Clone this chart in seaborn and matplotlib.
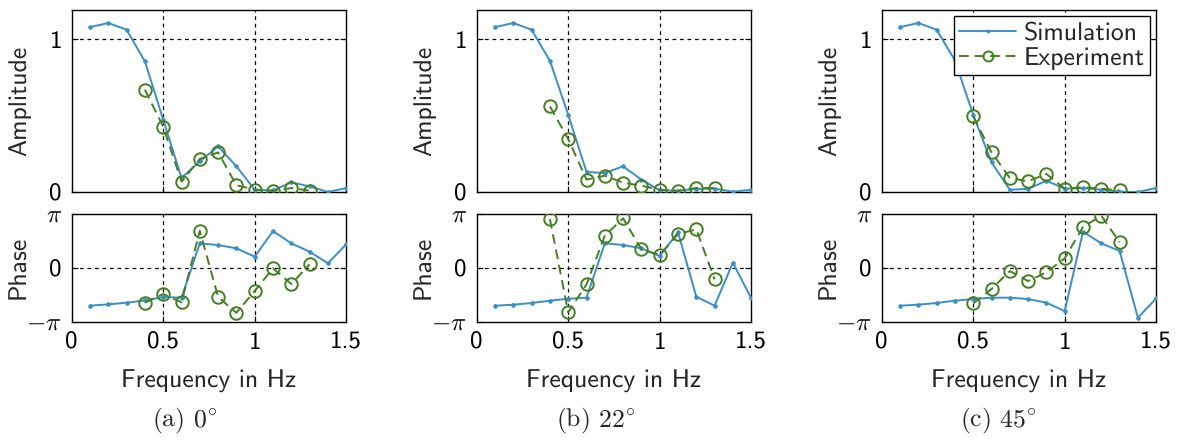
import numpy as np
import pandas as pd
import matplotlib
matplotlib.use("Agg")
import matplotlib.pyplot as plt
import seaborn as sns

freq_sim = [0.1, 0.2, 0.3, 0.4, 0.5, 0.6, 0.7, 0.8, 0.9, 1.0, 1.1, 1.2, 1.3, 1.4, 1.5]

# Amplitudes (simulation)
amp_sim_a = [1.078, 1.105, 1.061, 0.854, 0.473, 0.092, 0.20, 0.298, 0.168, 0.015, 0.010, 0.063, 0.037, 0.000, 0.026]
amp_sim_b = [1.078, 1.105, 1.061, 0.858, 0.505, 0.131, 0.124, 0.168, 0.081, 0.011, 0.009, 0.020, 0.022, 0.002, 0.015]
amp_sim_c = [1.078, 1.105, 1.061, 0.861, 0.505, 0.194, 0.015, 0.020, 0.074, 0.022, 0.026, 0.015, 0.002, 0.000, 0.026]

# Phases (simulation), in units of pi
ph_sim_a = [-0.703, -0.678, -0.647, -0.604, -0.542, -0.554, 0.455, 0.424, 0.362, 0.207, 0.684, 0.455, 0.300, 0.084, 0.437]
ph_sim_b = [-0.703, -0.684, -0.653, -0.610, -0.573, -0.554, 0.455, 0.424, 0.362, 0.220, 0.659, -0.536, -0.703, 0.096, -0.567]
ph_sim_c = [-0.703, -0.684, -0.653, -0.610, -0.579, -0.554, -0.554, -0.579, -0.647, -0.802, 0.672, 0.455, 0.313, -0.926, -0.567]

# Experiment
freq_exp_a = [0.4, 0.5, 0.6, 0.7, 0.8, 0.9, 1.0, 1.1, 1.2, 1.3]
amp_exp_a = [0.669, 0.427, 0.068, 0.216, 0.259, 0.044, 0.015, 0.007, 0.026, 0.009]
ph_exp_a = [-0.647, -0.486, -0.641, 0.690, -0.542, -0.833, -0.430, -0.009, -0.300, 0.065]

freq_exp_b = [0.4, 0.5, 0.6, 0.7, 0.8, 0.9, 1.0, 1.1, 1.2, 1.3]
amp_exp_b = [0.560, 0.346, 0.081, 0.107, 0.061, 0.041, 0.015, 0.007, 0.026, 0.026]
ph_exp_b = [0.907, -0.827, -0.307, 0.598, 0.920, 0.344, 0.238, 0.628, 0.715, -0.214]

freq_exp_c = [0.5, 0.6, 0.7, 0.8, 0.9, 1.0, 1.1, 1.2, 1.3]
amp_exp_c = [0.495, 0.259, 0.092, 0.070, 0.118, 0.022, 0.031, 0.022, 0.011]
ph_exp_c = [-0.659, -0.393, -0.059, -0.245, -0.084, 0.176, 0.759, 0.969, 0.474]

captions = ["(a) $0^{\\circ}$", "(b) $22^{\\circ}$", "(c) $45^{\\circ}$"]
caption_x = [185, 596, 998]

sns.set_style("white")
plt.rcParams["font.family"] = ["cmss10", "DejaVu Sans"]
plt.rcParams["mathtext.fontset"] = "cm"
plt.rcParams["axes.unicode_minus"] = False
plt.rcParams["axes.formatter.use_mathtext"] = True
plt.rcParams["text.hinting"] = "no_hinting"

BLUE = "#3a8fcb"
GREEN = "#44801f"
FS = 18.5
TFS = 18

W, H = 1182, 443
fig = plt.figure(figsize=(W / 100, H / 100), dpi=100)

lefts = [71.7, 476.7, 881.7]
width = 274.5

panels = [
    (amp_sim_a, ph_sim_a, freq_exp_a, amp_exp_a, ph_exp_a),
    (amp_sim_b, ph_sim_b, freq_exp_b, amp_exp_b, ph_exp_b),
    (amp_sim_c, ph_sim_c, freq_exp_c, amp_exp_c, ph_exp_c),
]

def style_axes(ax):
    for s in ax.spines.values():
        s.set_color("black")
        s.set_linewidth(1.0)
    ax.tick_params(direction="in", length=4, width=0.8, colors="black",
                   labelsize=TFS, top=False, right=True, left=True, bottom=True, pad=7)
    ax.set_xlim(0, 1.5)

for i, (a_s, p_s, f_e, a_e, p_e) in enumerate(panels):
    l = lefts[i]
    ax_a = fig.add_axes([l / W, 1 - 192 / H, width / W, (192 - 10) / H])
    ax_p = fig.add_axes([l / W, 1 - 321.7 / H, width / W, (321.7 - 214) / H])

    df_s = pd.DataFrame({"f": freq_sim, "amp": a_s, "ph": np.array(p_s) * np.pi})
    df_e = pd.DataFrame({"f": f_e, "amp": a_e, "ph": np.array(p_e) * np.pi})

    for ax, col in [(ax_a, "amp"), (ax_p, "ph")]:
        sns.lineplot(data=df_s, x="f", y=col, ax=ax, color=BLUE, lw=1.4,
                     marker="o", ms=2.5, mec=BLUE, mfc=BLUE,
                     label="Simulation", legend=False, zorder=3)
        sns.lineplot(data=df_e, x="f", y=col, ax=ax, color=GREEN, lw=1.4,
                     linestyle=(0, (5, 3)), marker="o", ms=9, mfc="none",
                     mec=GREEN, mew=1.4, label="Experiment", legend=False, zorder=4)
        style_axes(ax)
        ax.set_xlabel("")
        ax.set_ylabel("")

    # amplitude axes
    ax_a.set_ylim(0, 1.19)
    ax_a.set_yticks([0, 1])
    ax_a.set_yticklabels(["0", "1"])
    ax_a.set_xticks([0, 0.5, 1, 1.5])
    ax_a.set_xticklabels([])
    ax_a.axhline(1, color="black", lw=0.9, ls=(0, (3, 3)), zorder=1)
    for xv in [0.5, 1.0]:
        ax_a.axvline(xv, color="black", lw=0.9, ls=(0, (3, 3)), zorder=1)
    ax_a.set_ylabel("Amplitude", fontsize=FS, fontweight="normal")

    # phase axes
    ax_p.set_ylim(-np.pi, np.pi)
    ax_p.set_yticks([-np.pi, 0, np.pi])
    ax_p.set_yticklabels([r"$-\pi$", "0", r"$\pi$"])
    ax_p.set_xticks([0, 0.5, 1, 1.5])
    ax_p.set_xticklabels(["0", "0.5", "1", "1.5"])
    ax_p.axhline(0, color="black", lw=0.9, ls=(0, (3, 3)), zorder=1)
    for xv in [0.5, 1.0]:
        ax_p.axvline(xv, color="black", lw=0.9, ls=(0, (3, 3)), zorder=1)
    ax_p.set_ylabel("Phase", fontsize=FS, fontweight="normal")
    ax_p.set_xlabel("Frequency in Hz", fontsize=FS, labelpad=12)

    ax_a.yaxis.set_label_coords(-40 / width, 0.5)
    ax_p.yaxis.set_label_coords(-41 / width, 0.5)

    fig.text(caption_x[i] / W, 1 - 420 / H, captions[i], fontsize=FS,
             family=["cmr10", "DejaVu Serif"], ha="center", va="center")

    if i == 2:
        handles, labels = ax_a.get_legend_handles_labels()
        leg = ax_a.legend(handles[:2], labels[:2], loc="upper right", fontsize=FS,
                          fancybox=False, framealpha=1, edgecolor="black",
                          borderaxespad=0.25, handlelength=2.2, handletextpad=0.3,
                          borderpad=0.2, labelspacing=0.1, markerscale=0.8)
        leg.get_frame().set_linewidth(1.0)

fig.savefig("out.png", dpi=100)
